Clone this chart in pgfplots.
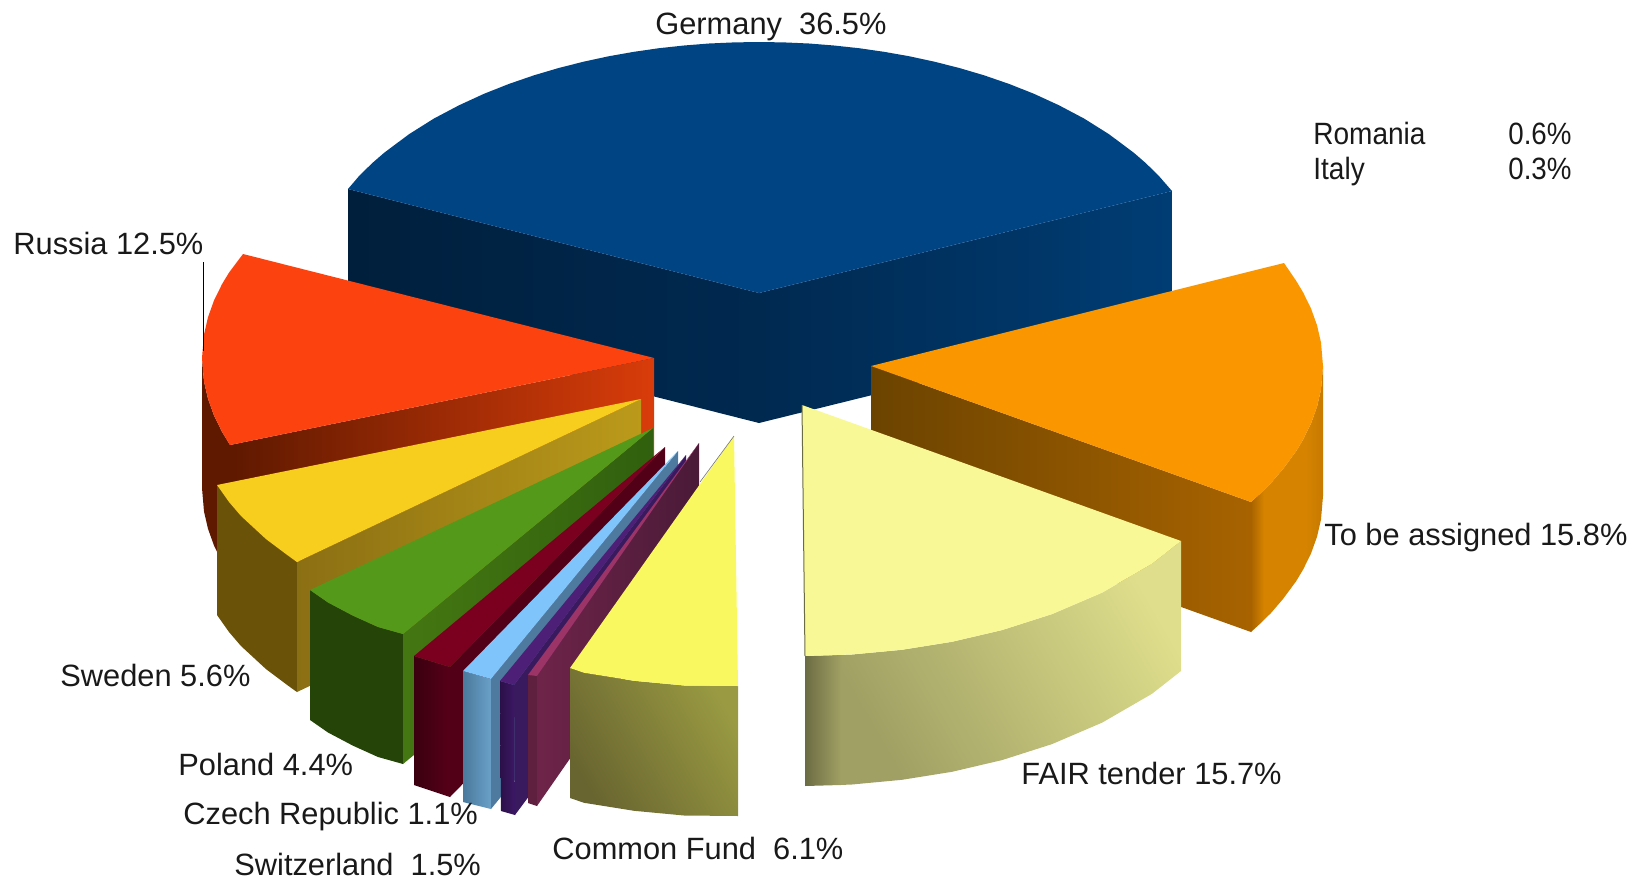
\documentclass[border=0pt]{standalone}
\usepackage{fontspec}
\setmainfont{Liberation Sans}
\usepackage{pgfplots}
\pgfplotsset{compat=1.18}
\definecolor{gerT}{HTML}{014483}
\definecolor{gerL1}{HTML}{001F3C}
\definecolor{gerL2}{HTML}{002950}
\definecolor{gerR2}{HTML}{003D74}
\definecolor{oraT}{HTML}{FA9600}
\definecolor{oraI1}{HTML}{6B4300}
\definecolor{oraI2}{HTML}{A86300}
\definecolor{oraW1}{HTML}{A86400}
\definecolor{oraW2}{HTML}{D68400}
\definecolor{oraW3}{HTML}{C87A00}
\definecolor{ltyT}{HTML}{F8F896}
\definecolor{ltyS1}{HTML}{6C6C44}
\definecolor{ltyS2}{HTML}{A0A064}
\definecolor{ltyW2}{HTML}{A0A064}
\definecolor{ltyW3}{HTML}{DEDE8C}
\definecolor{redT}{HTML}{FC420E}
\definecolor{redI1}{HTML}{5E1900}
\definecolor{redI2}{HTML}{D93C0A}
\definecolor{yelT}{HTML}{F8CE1E}
\definecolor{yelI1}{HTML}{8B6F13}
\definecolor{yelI2}{HTML}{BB9A1A}
\definecolor{yelW}{HTML}{6A5208}
\definecolor{grnT}{HTML}{55991A}
\definecolor{grnI1}{HTML}{447712}
\definecolor{grnI2}{HTML}{31600E}
\definecolor{grnW}{HTML}{244408}
\definecolor{crmT}{HTML}{7B0020}
\definecolor{crmI}{HTML}{520018}
\definecolor{crmW1}{HTML}{3A0010}
\definecolor{crmW2}{HTML}{560018}
\definecolor{bluT}{HTML}{7FC4FA}
\definecolor{bluI}{HTML}{4D7A9E}
\definecolor{bluW1}{HTML}{4A7A9C}
\definecolor{bluW2}{HTML}{6AA0C8}
\definecolor{purT}{HTML}{4D1F77}
\definecolor{purI}{HTML}{3A1A5E}
\definecolor{purW1}{HTML}{2B1048}
\definecolor{purW2}{HTML}{3C1865}
\definecolor{marT}{HTML}{9C3468}
\definecolor{marI1}{HTML}{6E2448}
\definecolor{marI2}{HTML}{4A1A38}
\definecolor{marW}{HTML}{5F2040}
\definecolor{cfT}{HTML}{F9F861}
\definecolor{cfW1}{HTML}{696530}
\definecolor{cfW2}{HTML}{999A42}
\pgfdeclarehorizontalshading{orawall}{100bp}{color(0bp)=(oraW1); color(25bp)=(oraW1); color(34bp)=(oraW2); color(62bp)=(oraW2); color(75bp)=(oraW3); color(100bp)=(oraW3)}
\tikzset{lab/.style={anchor=west,inner sep=0pt,text height=11pt,text depth=3pt,font=\fontsize{15.4}{18}\selectfont,text=black!90}}
\begin{document}
\begin{tikzpicture}
\begin{axis}[width=823pt,height=439.5pt,scale only axis,xmin=0,xmax=1646,ymin=0,ymax=879,y dir=reverse,hide axis,clip=false]
% Germany
\addplot[draw=none,left color=gerL1,right color=gerL2] coordinates {(348,189)(759,293)(759,423)(348,319)} --cycle;
\addplot[draw=none,left color=gerL2,right color=gerR2] coordinates {(759,293)(1172,191)(1172,321)(759,423)} --cycle;
\addplot[draw=none,fill=gerT] coordinates {(348,189)(359,176.1)(372,163.3)(384,152.9)(409,134.2)(434,118.5)(459,105.3)(484,93.8)(509,83.9)(534,75.3)(559,67.9)(584,61.6)(609,56.2)(634,51.8)(659,48.2)(684,45.5)(709,43.5)(734,42.4)(759,42)(784,42.4)(809,43.5)(834,45.5)(859,48.2)(884,51.8)(909,56.2)(934,61.6)(959,67.9)(984,75.3)(1009,83.9)(1034,93.8)(1059,105.3)(1084,118.5)(1109,134.2)(1134,152.9)(1146,163.3)(1159,176.1)(1172,191)(759,293)} --cycle;
% To be assigned
\addplot[draw=none,shading=orawall] coordinates {(1251,502)(1261,492.9)(1271,483)(1283,469)(1296,451.4)(1303,439.8)(1311,423.5)(1317,406.8)(1321,389.5)(1323,366)(1323,496)(1321,519.5)(1317,536.8)(1311,553.5)(1303,569.8)(1296,581.4)(1283,599)(1271,613)(1261,622.9)(1251,632)} --cycle;
\addplot[draw=none,left color=oraI1,right color=oraI2] coordinates {(871,366)(1251,502)(1251,632)(871,496)} --cycle;
\addplot[draw=none,fill=oraT] coordinates {(871,366)(1284,263)(1296,280.6)(1303,292.2)(1311,308.5)(1317,325.2)(1321,342.5)(1323,366)(1321,389.5)(1317,406.8)(1311,423.5)(1303,439.8)(1296,451.4)(1283,469)(1271,483)(1261,492.9)(1251,502)} --cycle;
% FAIR tender
\addplot[draw=none,left color=ltyW2,right color=ltyW3,shading angle=120] coordinates {(840,655)(852,654.5)(902,649.8)(952,641.8)(1002,630.1)(1052,614.1)(1102,592.7)(1152,563.8)(1181,541)(1181,671)(1152,693.8)(1102,722.7)(1052,744.1)(1002,760.1)(952,771.8)(902,779.8)(852,784.5)(840,785)} --cycle;
\addplot[draw=none,left color=ltyS1,right color=ltyS2] coordinates {(805,656)(841,655)(841,785)(805,786)} --cycle;
\addplot[draw=none,fill=ltyT] coordinates {(802,405)(1181,541)(1152,563.8)(1102,592.7)(1052,614.1)(1002,630.1)(952,641.8)(902,649.8)(852,654.5)(805,656)} --cycle;
\addplot[draw=ltyS1,line width=0.5pt] coordinates {(802,405)(805,656)};
% Russia
\addplot[draw=none,fill=redI1] coordinates {(202,358)(204,381.5)(208,398.8)(214,415.5)(222,431.8)(230,445)(230,575)(222,561.8)(214,545.5)(208,528.8)(204,511.5)(202,488)} --cycle;
\addplot[draw=none,left color=redI1,right color=redI2] coordinates {(654,358)(230,445)(230,575)(654,488)} --cycle;
\addplot[draw=none,fill=redT] coordinates {(654,358)(243,254)(229,272.6)(222,284.2)(214,300.5)(208,317.2)(204,334.5)(202,358)(204,381.5)(208,398.8)(214,415.5)(222,431.8)(230,445)} --cycle;
\addplot[draw=black,line width=0.5pt] coordinates {(203,262)(203,351)};
% Sweden
\addplot[draw=none,fill=yelW] coordinates {(217,485)(229,502)(241,516)(266,539.1)(291,557.8)(297,562)(297,692)(291,687.8)(266,669.1)(241,646)(229,632)(217,615)} --cycle;
\addplot[draw=none,left color=yelI1,right color=yelI2] coordinates {(641,399)(297,562)(297,692)(641,529)} --cycle;
\addplot[draw=none,fill=yelT] coordinates {(641,399)(217,485)(229,502)(241,516)(266,539.1)(291,557.8)(297,562)} --cycle;
% Poland
\addplot[draw=none,fill=grnW] coordinates {(310,590)(328,602.5)(353,615.7)(378,627)(403,634)(403,764)(378,757)(353,745.7)(328,732.5)(310,720)} --cycle;
\addplot[draw=none,left color=grnI1,right color=grnI2] coordinates {(653,428)(403,634)(403,764)(653,558)} --cycle;
\addplot[draw=none,fill=grnT] coordinates {(653,428)(310,590)(328,602.5)(353,615.7)(378,627)(403,634)} --cycle;
% crimson
\addplot[draw=none,left color=crmW1,right color=crmW2] coordinates {(414,656)(450,667)(450,797)(414,785)} --cycle;
\addplot[draw=none,fill=crmI] coordinates {(665,447)(450,667)(450,797)(665,577)} --cycle;
\addplot[draw=none,fill=crmT] coordinates {(665,447)(414,656)(450,667)} --cycle;
% light blue
\addplot[draw=none,left color=bluW1,right color=bluW2] coordinates {(463,671)(491,679)(491,809)(463,802)} --cycle;
\addplot[draw=none,fill=bluI] coordinates {(678,451)(491,679)(491,809)(678,581)} --cycle;
\addplot[draw=none,fill=bluT] coordinates {(678,451)(463,671)(491,679)} --cycle;
% purple
\addplot[draw=none,left color=purW1,right color=purW2] coordinates {(500,681)(514,685)(515,815)(501,811)} --cycle;
\addplot[draw=none,fill=purI] coordinates {(686,455)(514,685)(515,815)(686,585)} --cycle;
\addplot[draw=none,fill=purT] coordinates {(686,455)(500,681)(514,685)} --cycle;
% maroon
\addplot[draw=none,fill=marW] coordinates {(528,675)(537,676)(537,806)(528,803)} --cycle;
\addplot[draw=none,left color=marI1,right color=marI2] coordinates {(699,443)(537,676)(537,806)(699,573)} --cycle;
\addplot[draw=none,fill=marT] coordinates {(699,443)(528,675)(537,676)} --cycle;
% Common Fund
\addplot[draw=none,left color=cfW1,right color=cfW2,shading angle=120] coordinates {(570,668)(584,672.8)(634,680.8)(684,685.5)(738,686)(738,816)(684,815.5)(634,810.8)(584,802.8)(570,798)} --cycle;
\addplot[draw=none,fill=cfT] coordinates {(734,436)(570,668)(584,672.8)(634,680.8)(684,685.5)(738,686)} --cycle;
\addplot[draw=black!55,line width=0.3pt] coordinates {(734,436)(700,482)};
% labels
\node[lab] at (axis cs:655,26) {Germany\ \ 36.5\%};
\node[lab,xscale=0.91] at (axis cs:1313,136) {Romania};
\node[lab,xscale=0.9] at (axis cs:1508,136) {0.6\%};
\node[lab,xscale=0.91] at (axis cs:1313,171) {Italy};
\node[lab,xscale=0.9] at (axis cs:1508,171) {0.3\%};
\node[lab] at (axis cs:13,246) {Russia 12.5\%};
\node[lab] at (axis cs:1324,537) {To be assigned 15.8\%};
\node[lab] at (axis cs:1021,776) {FAIR tender 15.7\%};
\node[lab] at (axis cs:60,678) {Sweden 5.6\%};
\node[lab] at (axis cs:178,767) {Poland 4.4\%};
\node[lab] at (axis cs:183,816) {Czech Republic 1.1\%};
\node[lab] at (axis cs:234,867) {Switzerland\ \ 1.5\%};
\node[lab] at (axis cs:552,851) {Common Fund\ \ 6.1\%};
\end{axis}
\pgfresetboundingbox
\path[use as bounding box] (0,0) rectangle (823pt,439.5pt);
\end{tikzpicture}
\end{document}
